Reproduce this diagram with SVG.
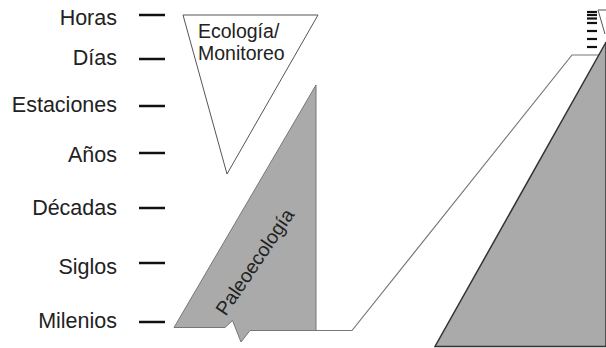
<svg xmlns="http://www.w3.org/2000/svg" width="606" height="348" viewBox="0 0 606 348">
<style>
.lbl{font-family:"Liberation Sans",Arial,sans-serif;font-size:21.5px;fill:#222;text-anchor:end}
.in{font-family:"Liberation Sans",Arial,sans-serif;font-size:19.5px;fill:#222}
.tick{stroke:#111;stroke-width:2.5}
.mtick{stroke:#111;stroke-width:2.2}
.thin{fill:none;stroke:#777;stroke-width:1.2}
</style>
<rect width="606" height="348" fill="#fff"/>
<g id="scale">
<text class="lbl" x="117" y="25">Horas</text>
<text class="lbl" x="117" y="65">Días</text>
<text class="lbl" x="117" y="112">Estaciones</text>
<text class="lbl" x="117" y="162">Años</text>
<text class="lbl" x="117" y="215">Décadas</text>
<text class="lbl" x="117" y="274">Siglos</text>
<text class="lbl" x="117" y="328">Milenios</text>
<line class="tick" x1="139" y1="15" x2="165" y2="15"/>
<line class="tick" x1="139" y1="59" x2="165" y2="59"/>
<line class="tick" x1="139" y1="106" x2="165" y2="106"/>
<line class="tick" x1="139" y1="153" x2="165" y2="153"/>
<line class="tick" x1="139" y1="208" x2="165" y2="208"/>
<line class="tick" x1="139" y1="263" x2="165" y2="263"/>
<line class="tick" x1="139" y1="322" x2="165" y2="322"/>
</g>
<g id="connectors">
<polyline class="thin" points="316,330.5 352,330.5 572,55 600,55"/>
</g>
<g id="ecologia">
<polygon points="183,15 318,15 227,174" fill="#fff" stroke="#555" stroke-width="1"/>
<text class="in" x="198" y="38">Ecología/</text>
<text class="in" x="198" y="60">Monitoreo</text>
</g>
<g id="paleoecologia">
<polygon points="316,85 316,330.5 250,330.5 241,342 232.5,320.5 225,327.5 174,327.5" fill="#aaa" stroke="#777" stroke-width="1"/>
<text class="in" transform="translate(255,262) rotate(-56)" x="0" y="6.5" text-anchor="middle">Paleoecología</text>
</g>
<g id="gran-escala">
<polygon points="435,346.5 606,346.5 606,42 605,44" fill="#aaa" stroke="#333" stroke-width="1.5"/>
<polyline points="598,10 606,10" fill="none" stroke="#555" stroke-width="1"/>
<polyline points="598,10 605,34" fill="none" stroke="#555" stroke-width="1"/>
<line class="mtick" x1="587" y1="12" x2="597" y2="12"/>
<line class="mtick" x1="587" y1="15" x2="597" y2="15"/>
<line class="mtick" x1="587" y1="18.5" x2="597" y2="18.5"/>
<line class="mtick" x1="587" y1="23" x2="597" y2="23"/>
<line class="mtick" x1="587" y1="31" x2="597" y2="31"/>
<line class="mtick" x1="587" y1="39" x2="597" y2="39"/>
<line class="mtick" x1="587" y1="47" x2="597" y2="47"/>
</g>
</svg>
